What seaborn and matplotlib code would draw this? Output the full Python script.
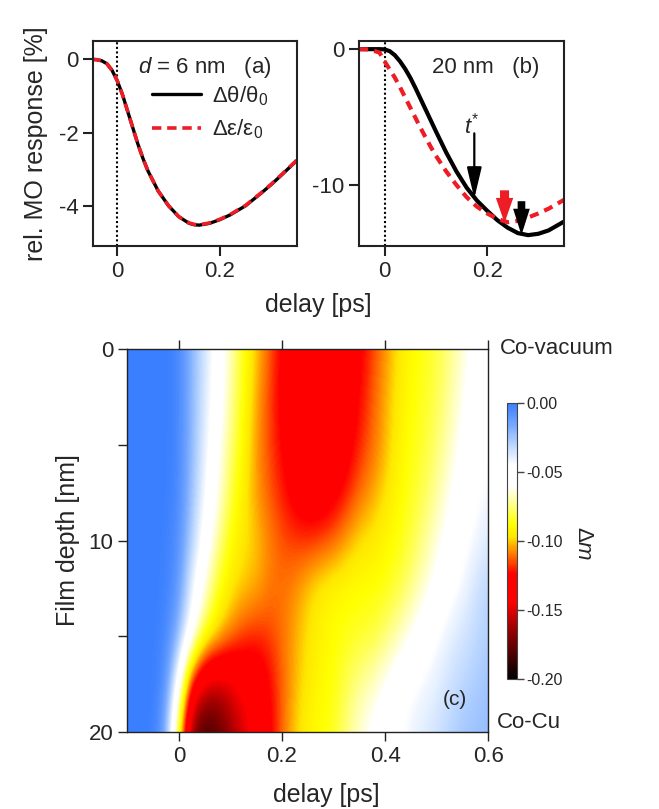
import numpy as np
import matplotlib
matplotlib.use("Agg")
import matplotlib.pyplot as plt
import seaborn as sns
from matplotlib.colors import LinearSegmentedColormap, Normalize
from matplotlib.cm import ScalarMappable

sns.set_style("ticks")
plt.rcParams["font.family"] = ["Liberation Sans", "DejaVu Sans"]
plt.rcParams["mathtext.fontset"] = "custom"
plt.rcParams["mathtext.rm"] = "Liberation Sans"
plt.rcParams["mathtext.it"] = "Liberation Sans:italic"
plt.rcParams["axes.unicode_minus"] = False

# ---- panel (a): d = 6 nm ----
delay_a = [-0.05, -0.04, -0.03, -0.02, -0.01, 0.00, 0.01, 0.02, 0.03, 0.04, 0.05,
           0.06, 0.08, 0.10, 0.12, 0.14, 0.15, 0.16, 0.18, 0.20, 0.22, 0.25,
           0.28, 0.30, 0.32, 0.35]
theta_a = [0.0, -0.01, -0.04, -0.12, -0.30, -0.58, -0.95, -1.40, -1.85, -2.30, -2.70,
           -3.05, -3.60, -4.00, -4.30, -4.48, -4.52, -4.53, -4.48, -4.38, -4.25, -4.00,
           -3.66, -3.42, -3.16, -2.76]
eps_a = [0.0, -0.01, -0.04, -0.12, -0.30, -0.58, -0.95, -1.40, -1.85, -2.30, -2.70,
         -3.05, -3.60, -4.00, -4.30, -4.47, -4.51, -4.52, -4.47, -4.37, -4.24, -3.99,
         -3.65, -3.41, -3.15, -2.75]

# ---- panel (b): d = 20 nm ----
delay_b = [-0.05, -0.03, -0.01, 0.00, 0.01, 0.02, 0.03, 0.04, 0.05, 0.06, 0.07,
           0.08, 0.09, 0.10, 0.12, 0.14, 0.16, 0.18, 0.20, 0.22, 0.24, 0.26,
           0.28, 0.30, 0.32, 0.35]
theta_b = [0.0, 0.0, 0.0, -0.02, -0.15, -0.45, -0.90, -1.45, -2.10, -2.85, -3.65,
           -4.45, -5.25, -6.05, -7.60, -9.00, -10.20, -11.15, -11.90, -12.60, -13.15, -13.55,
           -13.70, -13.60, -13.35, -12.70]
eps_b = [0.0, -0.02, -0.25, -0.90, -1.50, -2.10, -2.80, -3.55, -4.30, -5.05, -5.80,
         -6.50, -7.20, -7.85, -9.00, -10.00, -10.90, -11.60, -12.10, -12.50, -12.75, -12.65,
         -12.40, -12.10, -11.75, -11.10]

# markers in (b): t* and the two minima
tstar = 0.175
tstar_tail, tstar_tip = -6.2, -11.0
min_eps_t, min_eps_tail, min_eps_tip = 0.234, -10.4, -12.8
min_theta_t, min_theta_tail, min_theta_tip = 0.267, -11.2, -13.7

# ---- panel (c): depth-resolved magnetization change (rows: depth, cols: delay) ----
delay_c = [-0.100, -0.075, -0.050, -0.025, 0.000, 0.025, 0.050, 0.075, 0.100, 0.125,
           0.150, 0.175, 0.200, 0.225, 0.250, 0.275, 0.300, 0.325, 0.350, 0.375,
           0.400, 0.425, 0.450, 0.475, 0.500, 0.525, 0.550, 0.575, 0.600]
depth_c = [0.0, 2.5, 5.0, 7.5, 10.0, 12.5, 15.0, 17.5, 20.0]
dm_d00 = [0, 0, 0, 0, -0.003, -0.020, -0.035, -0.050, -0.068, -0.085,
          -0.100, -0.112, -0.125, -0.135, -0.140, -0.141, -0.140, -0.134, -0.127, -0.117,
          -0.107, -0.097, -0.090, -0.086, -0.082, -0.075, -0.066, -0.056, -0.050]
dm_d25 = [0, 0, 0, 0, -0.003, -0.020, -0.037, -0.052, -0.070, -0.087,
          -0.103, -0.115, -0.127, -0.137, -0.142, -0.142, -0.140, -0.133, -0.124, -0.114,
          -0.104, -0.095, -0.088, -0.085, -0.080, -0.072, -0.062, -0.053, -0.048]
dm_d50 = [0, 0, 0, 0, -0.003, -0.021, -0.039, -0.056, -0.075, -0.090,
          -0.105, -0.115, -0.124, -0.135, -0.140, -0.140, -0.138, -0.130, -0.120, -0.112,
          -0.103, -0.093, -0.087, -0.083, -0.077, -0.068, -0.058, -0.050, -0.046]
dm_d75 = [0, 0, 0, 0, -0.004, -0.023, -0.043, -0.061, -0.080, -0.093,
          -0.105, -0.113, -0.120, -0.128, -0.134, -0.134, -0.129, -0.121, -0.112, -0.105,
          -0.098, -0.090, -0.085, -0.080, -0.072, -0.062, -0.053, -0.047, -0.043]
dm_d100 = [0, 0, 0, -0.001, -0.006, -0.028, -0.050, -0.070, -0.088, -0.096,
           -0.100, -0.108, -0.114, -0.117, -0.118, -0.116, -0.112, -0.105, -0.098, -0.095,
           -0.091, -0.087, -0.082, -0.074, -0.065, -0.055, -0.048, -0.043, -0.038]
dm_d125 = [0, 0, 0, -0.001, -0.010, -0.040, -0.062, -0.085, -0.095, -0.100,
           -0.103, -0.109, -0.111, -0.107, -0.100, -0.094, -0.091, -0.089, -0.088, -0.088,
           -0.086, -0.082, -0.075, -0.066, -0.056, -0.048, -0.043, -0.036, -0.030]
dm_d150 = [0, 0, 0, -0.003, -0.020, -0.052, -0.085, -0.097, -0.108, -0.116,
           -0.119, -0.117, -0.111, -0.104, -0.097, -0.092, -0.088, -0.086, -0.084, -0.082,
           -0.077, -0.069, -0.060, -0.051, -0.045, -0.040, -0.036, -0.032, -0.028]
dm_d175 = [0, 0, 0, -0.006, -0.050, -0.125, -0.150, -0.156, -0.150, -0.140,
           -0.135, -0.125, -0.113, -0.103, -0.095, -0.090, -0.087, -0.080, -0.073, -0.068,
           -0.060, -0.051, -0.046, -0.043, -0.040, -0.035, -0.031, -0.028, -0.025]
dm_d200 = [0, 0, 0, -0.015, -0.085, -0.170, -0.186, -0.180, -0.165, -0.152,
           -0.140, -0.128, -0.112, -0.100, -0.092, -0.088, -0.085, -0.075, -0.065, -0.058,
           -0.050, -0.046, -0.042, -0.038, -0.035, -0.030, -0.026, -0.024, -0.022]
dm_grid = np.array([dm_d00, dm_d25, dm_d50, dm_d75, dm_d100, dm_d125,
                    dm_d150, dm_d175, dm_d200])

cbar_ticks = [0.0, -0.05, -0.10, -0.15, -0.20]
cbar_labels = ["0.00", "-0.05", "-0.10", "-0.15", "-0.20"]

# colour scale: black - red - orange - yellow - white - blue
cmap_nodes = [
    (0.000, (0.00, 0.00, 0.00)),
    (0.175, (0.59, 0.00, 0.00)),
    (0.280, (1.00, 0.00, 0.00)),
    (0.380, (1.00, 0.00, 0.00)),
    (0.405, (1.00, 0.15, 0.00)),
    (0.440, (1.00, 0.40, 0.00)),
    (0.475, (1.00, 0.62, 0.00)),
    (0.515, (1.00, 0.90, 0.00)),
    (0.560, (1.00, 1.00, 0.00)),
    (0.640, (1.00, 1.00, 0.60)),
    (0.700, (1.00, 1.00, 1.00)),
    (0.775, (1.00, 1.00, 1.00)),
    (0.850, (0.73, 0.84, 1.00)),
    (0.925, (0.45, 0.65, 1.00)),
    (1.000, (0.23, 0.50, 1.00)),
]
dm_cmap = LinearSegmentedColormap.from_list("dm", cmap_nodes)
dm_norm = Normalize(vmin=-0.20, vmax=0.0)

W, H = 659, 809
fig = plt.figure(figsize=(W / 100, H / 100), dpi=100)

def frac(x0, y0, x1, y1):
    return [x0 / W, 1 - y1 / H, (x1 - x0) / W, (y1 - y0) / H]

ax_a = fig.add_axes(frac(93, 41, 297, 246))
ax_b = fig.add_axes(frac(359, 41, 564, 246))
ax_c = fig.add_axes(frac(127.3, 349.3, 488.3, 731.7))
cax = fig.add_axes(frac(507.3, 403, 516.7, 679))

tick_fs = 16
label_fs = 18

# ---------- panel (a) ----------
sns.lineplot(x=delay_a, y=theta_a, ax=ax_a, color="black", lw=2.4)
sns.lineplot(x=delay_a, y=eps_a, ax=ax_a, color="#ee1c25", lw=2.6)
line_th_a, line_ep_a = ax_a.lines[0], ax_a.lines[1]
line_ep_a.set_dashes((2.6, 1.6))
ax_a.axvline(0, color="black", lw=1.5, ls=(0, (1, 1.2)), zorder=1)
ax_a.set_xlim(-0.047, 0.35)
ax_a.set_ylim(-5.1, 0.5)
ax_a.set_xticks([0, 0.2], ["0", "0.2"])
ax_a.set_yticks([0, -2, -4], ["0", "-2", "-4"])
ax_a.set_ylabel("rel. MO response [%]", fontsize=label_fs, labelpad=8)
ax_a.text(0.22, 0.873, r"$d$ = 6 nm   (a)", transform=ax_a.transAxes,
          fontsize=tick_fs, va="center", ha="left")
ax_a.legend([line_th_a, line_ep_a],
            [r"$\mathrm{Δθ/θ_0}$", r"$\mathrm{Δε/ε_0}$"],
            loc="upper left", bbox_to_anchor=(0.29, 0.79), frameon=False,
            fontsize=tick_fs, handlelength=2.2, handletextpad=0.5,
            labelspacing=0.45, borderpad=0, borderaxespad=0)

# ---------- panel (b) ----------
sns.lineplot(x=delay_b, y=theta_b, ax=ax_b, color="black", lw=3.0)
sns.lineplot(x=delay_b, y=eps_b, ax=ax_b, color="#ee1c25", lw=3.0)
ax_b.lines[1].set_dashes((2.2, 1.5))
ax_b.axvline(0, color="black", lw=1.5, ls=(0, (1, 1.2)), zorder=1)
ax_b.set_xlim(-0.05, 0.35)
ax_b.set_ylim(-14.5, 0.6)
ax_b.set_xticks([0, 0.2], ["0", "0.2"])
ax_b.set_yticks([0, -10], ["0", "-10"])
ax_b.text(0.356, 0.873, "20 nm   (b)", transform=ax_b.transAxes,
          fontsize=tick_fs, va="center", ha="left")

ax_b.annotate("", xy=(tstar, tstar_tip), xytext=(tstar, tstar_tail),
              arrowprops=dict(arrowstyle="-|>,head_length=1.9,head_width=0.45",
                              mutation_scale=10, lw=1.6, color="black",
                              shrinkA=0, shrinkB=0))
ax_b.text(tstar - 0.006, tstar_tail - 0.4, r"$t^{*}$", fontsize=tick_fs,
          ha="center", va="bottom")
ax_b.annotate("", xy=(min_eps_t, min_eps_tip), xytext=(min_eps_t, min_eps_tail),
              arrowprops=dict(arrowstyle="simple,head_length=18,head_width=12.5,tail_width=6.5",
                              mutation_scale=1, lw=0, color="#ee1c25",
                              shrinkA=0, shrinkB=0))
ax_b.annotate("", xy=(min_theta_t, min_theta_tip), xytext=(min_theta_t, min_theta_tail),
              arrowprops=dict(arrowstyle="simple,head_length=19,head_width=12,tail_width=5.5",
                              mutation_scale=1, lw=0, color="black",
                              shrinkA=0, shrinkB=0))

for ax in (ax_a, ax_b):
    for sp in ax.spines.values():
        sp.set_linewidth(1.5)
        sp.set_color("#222222")
    ax.tick_params(labelsize=tick_fs, length=7, width=1.5, direction="out",
                   color="#222222")

fig.text(318 / W, 1 - 305 / H, "delay [ps]", fontsize=label_fs,
         ha="center", va="center")

# ---------- panel (c) ----------
dt = delay_c[1] - delay_c[0]
dd = depth_c[1] - depth_c[0]
ax_c.imshow(dm_grid, cmap=dm_cmap, norm=dm_norm, aspect="auto",
            interpolation="bicubic", interpolation_stage="data", origin="upper",
            extent=[delay_c[0] - dt / 2, delay_c[-1] + dt / 2,
                    depth_c[-1] + dd / 2, depth_c[0] - dd / 2])
ax_c.set_xlim(-0.1, 0.6)
ax_c.set_ylim(20, 0)
ax_c.set_xticks([0, 0.2, 0.4, 0.6], ["0", "0.2", "0.4", "0.6"])
ax_c.set_yticks([0, 10, 20], ["0", "10", "20"])
ax_c.set_yticks([5, 15], minor=True)
ax_c.tick_params(which="both", labelsize=tick_fs, length=6.5, width=1.0,
                 direction="out", top=True, labeltop=False, color="#222222")
for sp in ax_c.spines.values():
    sp.set_linewidth(1.0)
    sp.set_color("#222222")
ax_c.set_ylabel("Film depth [nm]", fontsize=label_fs, labelpad=6)
fig.text(326 / W, 1 - 795 / H, "delay [ps]", fontsize=label_fs,
         ha="center", va="center")
ax_c.text(1.032, 1.003, "Co-vacuum", transform=ax_c.transAxes, fontsize=tick_fs,
          ha="left", va="center")
ax_c.text(1.024, 0.023, "Co-Cu", transform=ax_c.transAxes, fontsize=tick_fs,
          ha="left", va="center")
ax_c.text(0.908, 0.083, "(c)", transform=ax_c.transAxes, fontsize=15,
          ha="center", va="center")

sm = ScalarMappable(norm=dm_norm, cmap=dm_cmap)
cb = fig.colorbar(sm, cax=cax)
cb.set_ticks(cbar_ticks)
cb.set_ticklabels(cbar_labels)
cax.tick_params(labelsize=11.5, length=5, width=1.0, color="#444444", pad=2)
cb.outline.set_linewidth(0.8)
cb.outline.set_edgecolor("#444444")
fig.text(583 / W, 1 - 543 / H, r"Δ$m$", fontsize=16, rotation=270,
         ha="center", va="center")

fig.savefig("out.png", dpi=100)
